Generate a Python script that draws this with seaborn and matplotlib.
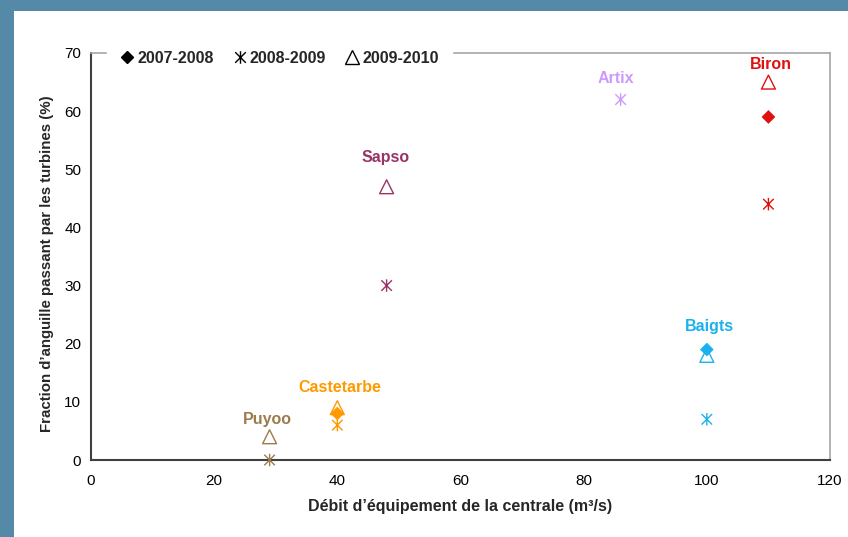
import numpy as np
import pandas as pd
import matplotlib
matplotlib.use("Agg")
import matplotlib.pyplot as plt
from matplotlib.path import Path
from matplotlib.lines import Line2D
from matplotlib.patches import Rectangle
import seaborn as sns

# ---- data ----
sites = ["Puyoo", "Castetarbe", "Sapso", "Artix", "Baigts", "Biron"]
debit = [29, 40, 48, 86, 100, 110]
y2007_2008 = [np.nan, 8, np.nan, np.nan, 19, 59]
y2008_2009 = [0, 6, 30, 62, 7, 44]
y2009_2010 = [4, 9, 47, np.nan, 18, 65]
years = ["2007-2008", "2008-2009", "2009-2010"]
site_colors = ["#9C7B4C", "#FF9900", "#993366", "#CC99FF", "#1AB2EE", "#E01010"]
label_x = [28.7, 40.4, 47.9, 85.3, 100.5, 110.4]
label_y = [7.0, 12.5, 52.0, 65.7, 23.0, 68.0]

sns.set_theme(style="white")
plt.rcParams["font.family"] = ["Liberation Sans", "DejaVu Sans"]

fig = plt.figure(figsize=(8.48, 5.37), dpi=100)
fig.patch.set_facecolor("white")
frame_col = "#5589A8"
fig.patches.append(Rectangle((0, 1 - 11 / 537), 1, 11 / 537, transform=fig.transFigure,
                             facecolor=frame_col, edgecolor="none", zorder=0))
fig.patches.append(Rectangle((0, 0), 14 / 848, 1, transform=fig.transFigure,
                             facecolor=frame_col, edgecolor="none", zorder=0))

ax = fig.add_axes([91 / 848, 1 - 460 / 537, (830 - 91) / 848, (460 - 53) / 537])

# asterisk marker path (X with a vertical bar)
ast = Path([(0, -1), (0, 1), (-0.85, -0.85), (0.85, 0.85), (-0.85, 0.85), (0.85, -0.85)],
           [Path.MOVETO, Path.LINETO, Path.MOVETO, Path.LINETO, Path.MOVETO, Path.LINETO])

palette = dict(zip(sites, site_colors))
series = {"2007-2008": y2007_2008, "2008-2009": y2008_2009, "2009-2010": y2009_2010}
mk = {"2007-2008": ("D", 42), "2008-2009": (ast, 80), "2009-2010": ("^", 100)}

for yr in years:
    df = pd.DataFrame({"site": sites, "x": debit, "y": series[yr]}).dropna()
    marker, size = mk[yr]
    sns.scatterplot(data=df, x="x", y="y", hue="site", palette=palette, marker=marker,
                    s=size, legend=False, ax=ax, zorder=3, clip_on=False)
    coll = ax.collections[-1]
    fc = coll.get_facecolors()
    coll.set_edgecolors(fc)
    if yr == "2009-2010":
        coll.set_facecolors("none")
        coll.set_linewidths(1.0)
    elif yr == "2008-2009":
        coll.set_linewidths(1.0)
    else:
        coll.set_linewidths(0.5)

for s, lx, ly, c in zip(sites, label_x, label_y, site_colors):
    ax.text(lx, ly, s, color=c, fontsize=11.5, fontweight="bold", ha="center", va="center")

ax.set_xlim(0, 120)
ax.set_ylim(0, 70)
ax.set_xticks(range(0, 121, 20))
ax.set_yticks(range(0, 71, 10))
ax.tick_params(axis="both", labelsize=11, colors="black", length=4, width=1)
ax.tick_params(axis="x", direction="out", pad=6)
ax.tick_params(axis="y", direction="inout", pad=5)
ax.set_xlabel("Débit d’équipement de la centrale (m³/s)", fontsize=11.5, fontweight="bold", labelpad=8)
ax.set_ylabel("Fraction d’anguille passant par les turbines (%)", fontsize=10.8, fontweight="bold")
ax.yaxis.set_label_coords(-0.050, 0.482)

for side in ["left", "bottom"]:
    ax.spines[side].set_color("#404040")
    ax.spines[side].set_linewidth(1.5)
for side in ["top", "right"]:
    ax.spines[side].set_color("#A6A6A6")
    ax.spines[side].set_linewidth(1.2)

handles = [
    Line2D([], [], marker="D", color="black", linestyle="none", markersize=6),
    Line2D([], [], marker=ast, color="black", markerfacecolor="none", linestyle="none",
           markersize=9, markeredgewidth=1.0),
    Line2D([], [], marker="^", color="black", markerfacecolor="none", linestyle="none",
           markersize=10, markeredgewidth=1.0),
]
leg = ax.legend(handles, years, loc="center left", bbox_to_anchor=(0.021, 0.9877), ncol=3,
                borderaxespad=0,
                frameon=True, fancybox=False, framealpha=1, edgecolor="white",
                facecolor="white", handlelength=1.0, handletextpad=0.15, columnspacing=1.1,
                borderpad=0.8, prop={"weight": "bold", "size": 11.5})
leg.set_zorder(10)

fig.savefig("out.png", dpi=100)
